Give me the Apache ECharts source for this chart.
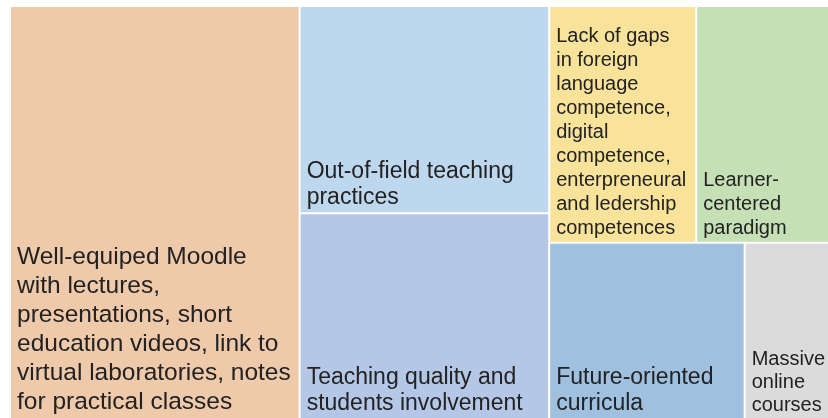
<!DOCTYPE html>
<html>
<head>
<meta charset="utf-8">
<script src="https://cdn.jsdelivr.net/npm/echarts@6/dist/echarts.min.js"></script>
<style>
  html, body { margin: 0; padding: 0; background: #fff; }
  #main { width: 828px; height: 418px; }
</style>
</head>
<body>
<div id="main"></div>
<script>
// 类别名称
var categories = [
    'Well-equiped Moodle with lectures, presentations, short education videos, link to virtual laboratories, notes for practical classes',
    'Out-of-field teaching practices',
    'Teaching quality and students involvement',
    'Lack of gaps in foreign language competence, digital competence, enterpreneural and ledership competences',
    'Learner-centered paradigm',
    'Future-oriented curricula',
    'Massive online courses'
]
// 占比
var shares = [35.4, 15.3, 15.2, 10.3, 9.3, 10.2, 4.4]
// 标签换行
var labelLines = [
    ['Well-equiped Moodle', 'with lectures,', 'presentations, short', 'education videos, link to', 'virtual laboratories, notes', 'for practical classes'],
    ['Out-of-field teaching', 'practices'],
    ['Teaching quality and', 'students involvement'],
    ['Lack of gaps', 'in foreign', 'language', 'competence,', 'digital', 'competence,', 'enterpreneural', 'and ledership', 'competences'],
    ['Learner-', 'centered', 'paradigm'],
    ['Future-oriented', 'curricula'],
    ['Massive', 'online', 'courses']
]

// 样式
var colors = ['#EEC9AA', '#BDD7EE', '#B4C7E7', '#F9E39B', '#C6E0B5', '#A0C0E0', '#DBDBDB']
var fontSizes = [24.5, 23, 23, 20, 20, 23, 20]
var lineHeights = [29, 26.5, 26.5, 24, 24, 26.5, 23]

var myChart = echarts.init(document.getElementById('main'))

var data = categories.map(function (name, i) {
    return {
        name: name,
        value: shares[i],
        itemStyle: { color: colors[i] },
        label: {
            formatter: labelLines[i].join('\n'),
            fontSize: fontSizes[i],
            lineHeight: lineHeights[i]
        }
    }
})

var option = {
    animation: false,
    series: [
        {
            type: 'treemap',
            left: 11,
            top: 7,
            width: 817,
            height: 411,
            sort: false,
            squareRatio: 1,
            roam: false,
            nodeClick: false,
            breadcrumb: { show: false },
            itemStyle: {
                borderWidth: 0,
                gapWidth: 2,
                borderColor: '#fff'
            },
            label: {
                show: true,
                position: 'insideBottomLeft',
                distance: 1,
                offset: [0, 5],
                color: '#222',
                fontFamily: 'Liberation Sans, Arial, sans-serif',
                overflow: 'none'
            },
            data: data
        }
    ]
}
myChart.setOption(option)
</script>
</body>
</html>
